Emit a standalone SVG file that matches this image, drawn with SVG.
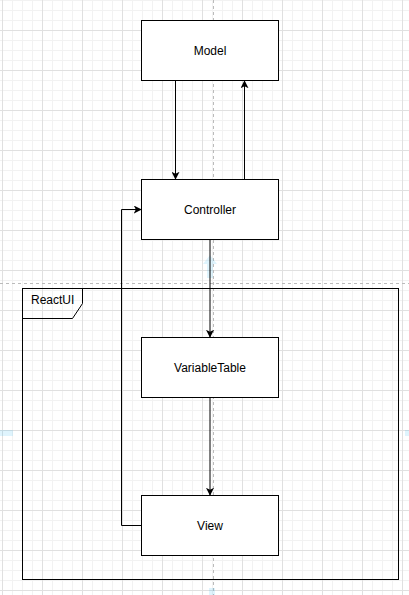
<svg xmlns="http://www.w3.org/2000/svg" width="409" height="595" viewBox="0 0 409 595">
  <defs>
    <pattern id="grid" x="2" y="-10" width="40" height="40" patternUnits="userSpaceOnUse">
      <path d="M10.5 0V40M20.5 0V40M30.5 0V40M0 10.5H40M0 20.5H40M0 30.5H40" stroke="#f2f2f2" stroke-width="1" fill="none"/>
      <path d="M0.5 0V40M0 0.5H40" stroke="#e0e0e0" stroke-width="1" fill="none"/>
    </pattern>
    <marker id="arr" viewBox="0 0 10 10" refX="9" refY="5" markerWidth="8" markerHeight="8" markerUnits="userSpaceOnUse" orient="auto">
      <path d="M0 0L10 5L0 10L2.5 5Z" fill="#000"/>
    </marker>
    <style>
      .box{fill:#fff;stroke:#000;stroke-width:1}
      .lbl{font-family:"Liberation Sans",Arial,sans-serif;font-size:12px;fill:#000;text-anchor:middle;dominant-baseline:central}
      .edge{fill:none;stroke:#000;stroke-width:1;marker-end:url(#arr)}
      .guide{stroke:#bbb;stroke-width:1;stroke-dasharray:3 3;fill:none}
      .hint{fill:#29b6f2;opacity:0.15}
    </style>
  </defs>
  <rect width="409" height="595" fill="#fff"/>
  <rect width="409" height="595" fill="url(#grid)"/>

  <g id="guides">
    <path class="guide" d="M213.5 0V595"/>
    <path class="guide" d="M0 283.5H409"/>
  </g>

  <g id="hints">
    <path class="hint" d="M207 278V264H203L210 255L217 264H213V278Z"/>
    <rect class="hint" x="0" y="430" width="13" height="6"/>
    <rect class="hint" x="405" y="430" width="4" height="6"/>
    <rect class="hint" x="209" y="588" width="6" height="7"/>
  </g>

  <g id="ReactUI">
    <rect x="22.5" y="288.5" width="376" height="291" fill="none" stroke="#000" stroke-width="1"/>
    <path d="M22.5 288.5H82.5V303.5L72.5 318.5H22.5" fill="none" stroke="#000" stroke-width="1"/>
    <text x="31" y="304" font-family="'Liberation Sans',Arial,sans-serif" font-size="12" fill="#000">ReactUI</text>
  </g>

  <g id="Model">
    <rect class="box" x="141.5" y="20.5" width="137" height="60"/>
    <text class="lbl" x="210" y="50.5">Model</text>
  </g>
  <g id="Controller">
    <rect class="box" x="141.5" y="179.5" width="137" height="60"/>
    <text class="lbl" x="210" y="209.5">Controller</text>
  </g>
  <g id="VariableTable">
    <rect class="box" x="141.5" y="337.5" width="137" height="60"/>
    <text class="lbl" x="210" y="367.5">VariableTable</text>
  </g>
  <g id="View">
    <rect class="box" x="141.5" y="495.5" width="137" height="60"/>
    <text class="lbl" x="210" y="525.5">View</text>
  </g>

  <g id="connectors">
    <path class="edge" d="M175.5 80.5V179"/>
    <path class="edge" d="M244.5 179.5V81"/>
    <path class="edge" d="M210 239.5V337"/>
    <path class="edge" d="M210 397.5V495"/>
    <path class="edge" d="M141.5 525.5H121.5V209.5H141"/>
  </g>
</svg>
